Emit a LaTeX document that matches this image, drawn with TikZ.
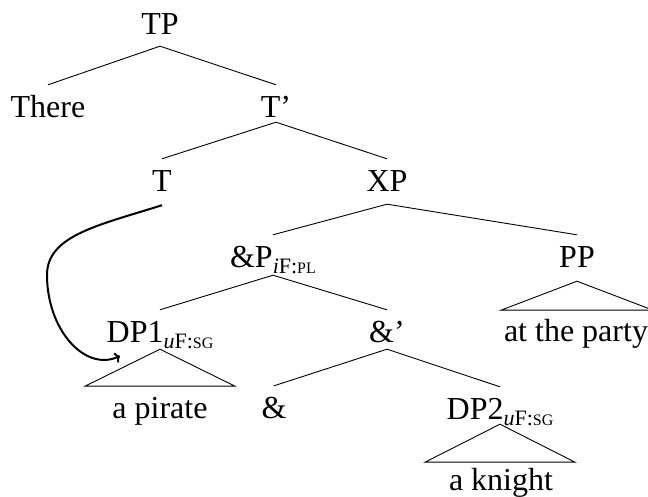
\documentclass[tikz,border=0pt]{standalone}
\usepackage{fontspec}
\setmainfont{Liberation Serif}
\usetikzlibrary{arrows.meta}
\newcommand{\fsub}[2]{\raisebox{-6pt}{\fontsize{22}{22}\selectfont\textit{#1}F:{\fontsize{16}{16}\selectfont #2}}}
\begin{document}
\begin{tikzpicture}[x=1pt,y=1pt,
  lab/.style={inner sep=0pt, anchor=base, text height=33pt, text depth=8pt, font=\fontsize{32}{38}\selectfont},
  leaf/.style={inner sep=0pt, anchor=base, font=\fontsize{32}{38}\selectfont},
  edge/.style={line width=0.9pt},
  movearrow/.style={line width=2pt, -{To[length=5pt,width=11pt]}}]
\useasboundingbox (0,0) rectangle (648,497);
% nodes
\node[lab, text depth=11pt] (TP)    at (160,462) {TP};
\node[lab]                  (There) at (48,379)  {There};
\node[lab, text depth=4pt]  (Tbar)  at (276,379) {T’};
\node[lab, text depth=13pt] (T)     at (162,305) {T};
\node[lab, text depth=12pt] (XP)    at (387,305) {XP};
\node[lab, text depth=7pt]  (AndP)  at (273,229) {\&P\fsub{i}{PL}};
\node[lab, text depth=13pt] (PP)    at (577,229) {PP};
\node[lab, text depth=6pt]  (DPa)   at (160,154) {DP1\fsub{u}{SG}};
\node[lab, text depth=6pt]  (Andbar) at (387,154) {\&’};
\node[leaf]                 (party) at (576,155) {at the party};
\node[leaf]                 (pirate) at (160,78) {a pirate};
\node[lab]                  (And)   at (274,78)  {\&};
\node[lab, text depth=4pt]  (DPb)   at (500,77)  {DP2\fsub{u}{SG}};
\node[leaf]                 (knight) at (501,6)  {a knight};
% edges
\draw[edge] (TP.south) -- (There.north);
\draw[edge] (TP.south) -- (Tbar.north);
\draw[edge] (Tbar.south) -- (T.north);
\draw[edge] (Tbar.south) -- (XP.north);
\draw[edge] (XP.south) -- (AndP.north);
\draw[edge] (XP.south) -- (PP.north);
\draw[edge] (AndP.south) -- (DPa.north);
\draw[edge] (AndP.south) -- (Andbar.north);
\draw[edge] (Andbar.south) -- (And.north);
\draw[edge] (Andbar.south) -- (DPb.north);
% triangles
\draw[edge] (DPa.south) -- ++(-75,-37) -- ++(150,0) -- cycle;
\draw[edge] (PP.south) -- ++(-76,-29) -- ++(152,0) -- cycle;
\draw[edge] (DPb.south) -- ++(-75,-38) -- ++(150,0) -- cycle;
% movement arrow
\coordinate (arrowend) at (120,141);
\draw[movearrow] (T.south) .. controls (100,272) and (47,262) .. (47,222)
  .. controls (47,167) and (85,125) .. (arrowend);
\end{tikzpicture}
\end{document}
